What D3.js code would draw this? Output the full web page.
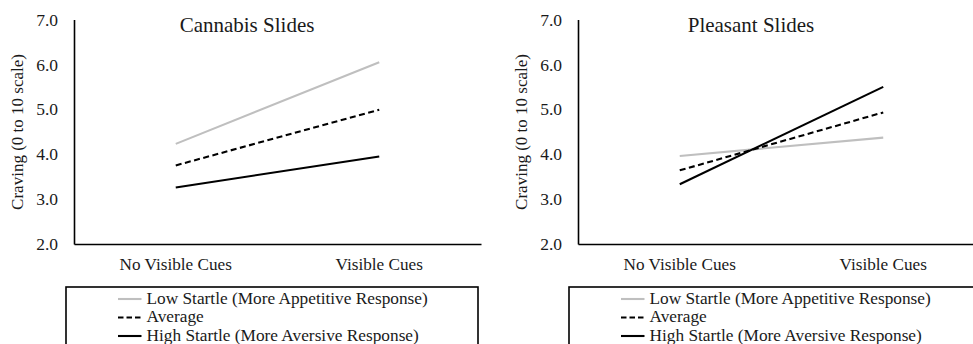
<!DOCTYPE html>
<html>
<head>
<meta charset="utf-8">
<script src="https://cdn.jsdelivr.net/npm/d3@7"></script>
<style>
  body { margin: 0; background: #fff; }
  svg { display: block; font-family: "Liberation Serif", "Times New Roman", serif; }
</style>
</head>
<body>
<svg id="viz" width="973" height="344"></svg>
<script>
// values
var categories = ["No Visible Cues", "Visible Cues"];
var yTicks = [2, 3, 4, 5, 6, 7];
var seriesNames = ["Low Startle (More Appetitive Response)", "Average", "High Startle (More Aversive Response)"];
var panelTitles = ["Cannabis Slides", "Pleasant Slides"];
var yTitle = "Craving (0 to 10 scale)";

var cannabisLow = [4.23, 6.05];
var cannabisAvg = [3.75, 4.99];
var cannabisHigh = [3.26, 3.95];

var pleasantLow = [3.96, 4.37];
var pleasantAvg = [3.64, 4.93];
var pleasantHigh = [3.33, 5.50];

var panels = [
    { title: panelTitles[0], series: [cannabisLow, cannabisAvg, cannabisHigh], left: 74, legendX: 66, legendW: 412 },
    { title: panelTitles[1], series: [pleasantLow, pleasantAvg, pleasantHigh], left: 578, legendX: 569, legendW: 420 }
];

var styles = [
    { stroke: "#bfbfbf", dash: null },
    { stroke: "#000", dash: "6,3.5" },
    { stroke: "#000", dash: null }
];

var svg = d3.select("#viz");
var plotW = 407, plotTop = 19.5, plotBase = 244;

var y = d3.scaleLinear().domain([2, 7]).range([plotBase, plotTop]);

panels.forEach(function (p) {
    var g = svg.append("g").attr("transform", "translate(" + p.left + ",0)");

    var x = d3.scaleBand().domain(categories).range([0, plotW]);

    // y axis
    var yAx = g.append("g").call(d3.axisLeft(y).tickValues(yTicks).tickFormat(d3.format(".1f")).tickSize(0).tickPadding(16));
    yAx.select(".domain").attr("stroke", "#000").attr("stroke-width", 1.6);
    yAx.selectAll("text").attr("font-size", 17.5).attr("font-family", "Liberation Serif").attr("fill", "#1a1a1a");

    // x axis
    var xAx = g.append("g").attr("transform", "translate(0," + plotBase + ")")
        .call(d3.axisBottom(x).tickSize(0).tickPadding(14));
    xAx.select(".domain").attr("stroke", "#000").attr("stroke-width", 1.6);
    xAx.selectAll("text").attr("font-size", 17.2).attr("font-family", "Liberation Serif").attr("fill", "#1a1a1a");

    // y title
    g.append("text")
        .attr("transform", "translate(-51," + 132 + ") rotate(-90)")
        .attr("text-anchor", "middle")
        .attr("font-size", 17)
        .attr("fill", "#1a1a1a")
        .text(yTitle);

    // panel title
    g.append("text")
        .attr("x", 173)
        .attr("y", 32)
        .attr("text-anchor", "middle")
        .attr("font-size", 21)
        .attr("fill", "#1a1a1a")
        .text(p.title);

    var line = d3.line()
        .x(function (d, i) { return x(categories[i]) + x.bandwidth() / 2; })
        .y(function (d) { return y(d); });

    p.series.forEach(function (s, i) {
        g.append("path")
            .datum(s)
            .attr("d", line)
            .attr("fill", "none")
            .attr("stroke", styles[i].stroke)
            .attr("stroke-width", 2.1)
            .attr("stroke-dasharray", styles[i].dash);
    });

    // legend box
    var lg = svg.append("g").attr("transform", "translate(" + p.legendX + ",287)");
    lg.append("rect")
        .attr("width", p.legendW)
        .attr("height", 80)
        .attr("fill", "none")
        .attr("stroke", "#000")
        .attr("stroke-width", 1.6);

    seriesNames.forEach(function (name, i) {
        var ry = 12 + i * 18.5;
        lg.append("line")
            .attr("x1", 52).attr("x2", 75.5)
            .attr("y1", ry).attr("y2", ry)
            .attr("stroke", styles[i].stroke)
            .attr("stroke-width", 2.1)
            .attr("stroke-dasharray", styles[i].dash ? "5.5,3" : null);
        lg.append("text")
            .attr("x", 80.5)
            .attr("y", ry + 4.5)
            .attr("font-size", 17.3)
            .attr("fill", "#1a1a1a")
            .text(name);
    });
});
</script>
</body>
</html>
